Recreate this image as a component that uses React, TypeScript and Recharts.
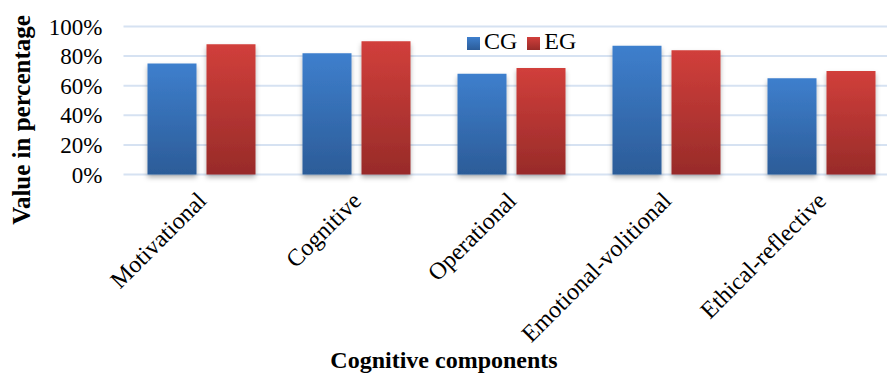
import { BarChart, Bar, XAxis, YAxis, CartesianGrid, Legend, Label } from 'recharts';

const categories = ['Motivational', 'Cognitive', 'Operational', 'Emotional-volitional', 'Ethical-reflective'];
const cgValues = [75, 82, 68, 87, 65];
const egValues = [88, 90, 72, 84, 70];
const yTicks = [0, 20, 40, 60, 80, 100];

const chartData = categories.map((name, i) => ({ name, CG: cgValues[i], EG: egValues[i] }));

const FONT = '"Liberation Serif", "Times New Roman", serif';

function CategoryTick({ x, y, payload }: any) {
  return (
    <g transform={`translate(${x + 1},${y})`}>
      <text transform="rotate(-45)" textAnchor="end" dy={8} fontSize={24} fill="#000" fontFamily={FONT}>
        {payload.value}
      </text>
    </g>
  );
}

export default function App() {
  return (
    <div style={{ position: 'absolute', left: 0, top: 0, width: 887, height: 374, overflow: 'hidden', background: '#fff', fontFamily: FONT }}>
      <BarChart
        width={900}
        height={374}
        data={chartData}
        margin={{ top: 26.5, right: 1.5, bottom: 0, left: 0 }}
        barSize={49}
        barGap={10}
      >
        <defs>
          <linearGradient id="cgFill" x1="0" y1="0" x2="0" y2="1">
            <stop offset="0%" stopColor="#3e7fcd" />
            <stop offset="100%" stopColor="#2c5c98" />
          </linearGradient>
          <linearGradient id="egFill" x1="0" y1="0" x2="0" y2="1">
            <stop offset="0%" stopColor="#d13f3b" />
            <stop offset="100%" stopColor="#982b29" />
          </linearGradient>
          <filter id="barShadow" x="-20%" y="-10%" width="140%" height="125%">
            <feDropShadow dx="0" dy="3" stdDeviation="2.5" floodColor="#000" floodOpacity="0.3" />
          </filter>
        </defs>
        <CartesianGrid vertical={false} stroke="#d6e2f2" strokeWidth={2} />
        <XAxis
          dataKey="name"
          height={199.5}
          axisLine={false}
          tickLine={false}
          tickSize={0}
          tickMargin={22}
          interval={0}
          tick={<CategoryTick />}
        >
          <Label
            content={() => (
              <text x={444} y={368} textAnchor="middle" fontSize={24} fontWeight="bold" fill="#000" fontFamily={FONT}>
                Cognitive components
              </text>
            )}
          />
        </XAxis>
        <YAxis
          width={123.5}
          domain={[0, 100]}
          ticks={yTicks}
          interval={0}
          axisLine={false}
          tickLine={false}
          tickSize={0}
          tickMargin={21}
          tickFormatter={(v: number) => `${v}%`}
          tick={{ fontSize: 23, fill: '#000', fontFamily: FONT }}
        >
          <Label
            content={() => (
              <text
                x={30}
                y={120}
                transform="rotate(-90, 30, 120)"
                textAnchor="middle"
                fontSize={25}
                fontWeight="bold"
                fill="#000"
                fontFamily={FONT}
              >
                Value in percentage
              </text>
            )}
          />
        </YAxis>
        <Legend
          layout="horizontal"
          verticalAlign="middle"
          align="center"
          iconType="square"
          iconSize={13}
          wrapperStyle={{ top: 28, left: 467, width: 'auto', fontSize: 24, fontFamily: FONT }}
          formatter={(value: string) => <span style={{ color: '#000' }}>{value}</span>}
        />
        <Bar dataKey="CG" name="CG" fill="url(#cgFill)" filter="url(#barShadow)" legendType="square" isAnimationActive={false} />
        <Bar dataKey="EG" name="EG" fill="url(#egFill)" filter="url(#barShadow)" legendType="square" isAnimationActive={false} />
      </BarChart>
    </div>
  );
}
